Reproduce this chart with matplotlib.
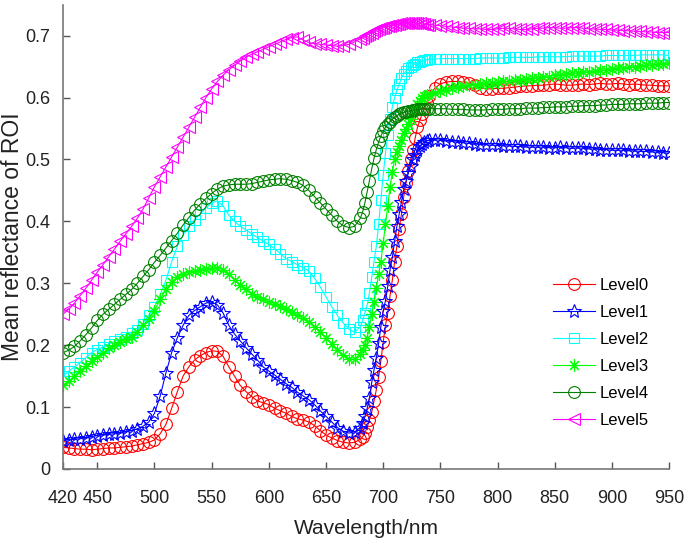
import numpy as np
import matplotlib
matplotlib.use("Agg")
import matplotlib.pyplot as plt

plt.rcParams['font.family'] = ['Liberation Sans', 'DejaVu Sans']

# wavelength grid: 5 nm, 2 nm around the red edge, then 5 nm again
wl = np.concatenate([np.arange(420, 681, 5), np.arange(682, 741, 2), np.arange(745, 951, 5)])

level0 = [0.035, 0.034, 0.033, 0.032, 0.032, 0.031, 0.032, 0.033, 0.034, 0.034, 0.035, 0.036, 0.037,
          0.039, 0.041, 0.043, 0.047, 0.057, 0.072, 0.098, 0.125, 0.150, 0.165, 0.176, 0.183, 0.188,
          0.191, 0.190, 0.182, 0.165, 0.150, 0.135, 0.125, 0.117, 0.110, 0.107, 0.104, 0.098, 0.094,
          0.090, 0.085, 0.081, 0.079, 0.076, 0.070, 0.062, 0.055, 0.050, 0.046, 0.043, 0.042, 0.043, 0.048,
          0.052, 0.058, 0.068, 0.079, 0.092, 0.110, 0.128, 0.148, 0.175, 0.205, 0.232, 0.252, 0.280, 0.305,
          0.335, 0.360, 0.388, 0.412, 0.440, 0.462, 0.482, 0.500, 0.515, 0.535, 0.552, 0.563, 0.573, 0.582,
          0.592, 0.602,
          0.615, 0.622, 0.625, 0.626, 0.626, 0.625, 0.623, 0.620, 0.616, 0.614, 0.614, 0.615, 0.615, 0.616,
          0.617, 0.618, 0.619, 0.619, 0.620, 0.620, 0.621, 0.622, 0.621, 0.620, 0.620, 0.621, 0.622, 0.621,
          0.622, 0.623, 0.622, 0.622, 0.623, 0.622, 0.621, 0.622, 0.621, 0.620, 0.620, 0.619, 0.619, 0.619]

level1 = [0.046, 0.047, 0.048, 0.049, 0.050, 0.052, 0.054, 0.055, 0.056, 0.057, 0.058, 0.060, 0.062,
          0.065, 0.069, 0.076, 0.090, 0.118, 0.155, 0.188, 0.212, 0.232, 0.248, 0.256, 0.262, 0.268,
          0.270, 0.265, 0.252, 0.232, 0.218, 0.207, 0.196, 0.186, 0.176, 0.165, 0.158, 0.152, 0.145,
          0.138, 0.132, 0.124, 0.118, 0.112, 0.104, 0.094, 0.085, 0.076, 0.067, 0.061, 0.058, 0.060, 0.067,
          0.075, 0.085, 0.098, 0.115, 0.140, 0.160, 0.180, 0.203, 0.230, 0.255, 0.272, 0.295, 0.322, 0.342,
          0.368, 0.392, 0.412, 0.432, 0.452, 0.465, 0.478, 0.490, 0.500, 0.508, 0.515, 0.521, 0.525, 0.528,
          0.530, 0.531,
          0.532, 0.531, 0.530, 0.529, 0.528, 0.527, 0.526, 0.525, 0.524, 0.524, 0.523, 0.523, 0.522, 0.522,
          0.521, 0.521, 0.520, 0.520, 0.520, 0.520, 0.519, 0.519, 0.520, 0.519, 0.518, 0.519, 0.518, 0.517,
          0.517, 0.516, 0.516, 0.515, 0.515, 0.515, 0.514, 0.514, 0.513, 0.513, 0.512, 0.512, 0.511, 0.510]

level2 = [0.150, 0.158, 0.165, 0.172, 0.180, 0.188, 0.193, 0.197, 0.202, 0.206, 0.210, 0.214, 0.219,
          0.225, 0.235, 0.248, 0.262, 0.282, 0.305, 0.335, 0.360, 0.378, 0.392, 0.403, 0.412, 0.422,
          0.430, 0.433, 0.425, 0.410, 0.400, 0.392, 0.386, 0.380, 0.374, 0.368, 0.363, 0.356, 0.348,
          0.340, 0.335, 0.330, 0.325, 0.320, 0.308, 0.294, 0.278, 0.262, 0.248, 0.236, 0.226, 0.221, 0.230,
          0.240, 0.252, 0.265, 0.285, 0.310, 0.335, 0.360, 0.395, 0.435, 0.475, 0.510, 0.540, 0.565, 0.585,
          0.600, 0.612, 0.622, 0.632, 0.638, 0.643, 0.647, 0.650, 0.652, 0.655, 0.657, 0.658, 0.659, 0.660,
          0.661, 0.662,
          0.662, 0.663, 0.663, 0.663, 0.663, 0.663, 0.663, 0.663, 0.664, 0.664, 0.664, 0.664, 0.664, 0.665,
          0.665, 0.665, 0.665, 0.665, 0.666, 0.666, 0.666, 0.666, 0.666, 0.666, 0.667, 0.667, 0.667, 0.667,
          0.667, 0.667, 0.668, 0.668, 0.668, 0.668, 0.668, 0.668, 0.669, 0.669, 0.669, 0.669, 0.669, 0.668]

level3 = [0.135, 0.142, 0.150, 0.158, 0.166, 0.174, 0.181, 0.188, 0.195, 0.200, 0.205, 0.210, 0.214,
          0.222, 0.232, 0.242, 0.256, 0.274, 0.290, 0.302, 0.310, 0.315, 0.318, 0.320, 0.322, 0.323,
          0.324, 0.325, 0.322, 0.315, 0.305, 0.297, 0.290, 0.283, 0.278, 0.274, 0.270, 0.267, 0.263,
          0.258, 0.253, 0.249, 0.244, 0.238, 0.230, 0.222, 0.212, 0.202, 0.192, 0.184, 0.177, 0.178, 0.186,
          0.192, 0.200, 0.212, 0.230, 0.250, 0.270, 0.292, 0.315, 0.335, 0.365, 0.395, 0.425, 0.455, 0.480,
          0.500, 0.512, 0.522, 0.532, 0.542, 0.550, 0.558, 0.566, 0.575, 0.583, 0.590, 0.595, 0.599, 0.602,
          0.604, 0.606,
          0.608, 0.611, 0.613, 0.615, 0.617, 0.618, 0.620, 0.621, 0.622, 0.623, 0.624, 0.625, 0.626, 0.627,
          0.628, 0.629, 0.630, 0.631, 0.632, 0.633, 0.634, 0.636, 0.637, 0.638, 0.639, 0.640, 0.641, 0.642,
          0.643, 0.644, 0.645, 0.646, 0.647, 0.648, 0.649, 0.650, 0.651, 0.652, 0.653, 0.654, 0.655, 0.656]

level4 = [0.188, 0.192, 0.198, 0.207, 0.217, 0.228, 0.240, 0.250, 0.258, 0.266, 0.274, 0.282, 0.290,
          0.300, 0.311, 0.322, 0.334, 0.345, 0.357, 0.369, 0.381, 0.394, 0.406, 0.418, 0.428, 0.437,
          0.445, 0.452, 0.457, 0.459, 0.460, 0.460, 0.460, 0.461, 0.463, 0.465, 0.467, 0.468, 0.469,
          0.468, 0.466, 0.463, 0.458, 0.450, 0.440, 0.430, 0.420, 0.410, 0.400, 0.393, 0.390, 0.392, 0.405,
          0.415, 0.430, 0.448, 0.466, 0.485, 0.502, 0.516, 0.528, 0.538, 0.546, 0.552, 0.557, 0.561, 0.565,
          0.568, 0.571, 0.573, 0.575, 0.576, 0.577, 0.578, 0.579, 0.580, 0.580, 0.581, 0.581, 0.581, 0.582,
          0.582, 0.582,
          0.582, 0.582, 0.582, 0.581, 0.581, 0.581, 0.580, 0.580, 0.580, 0.580, 0.581, 0.581, 0.581, 0.582,
          0.582, 0.582, 0.583, 0.583, 0.583, 0.584, 0.584, 0.585, 0.585, 0.585, 0.586, 0.586, 0.587, 0.587,
          0.587, 0.588, 0.588, 0.589, 0.589, 0.589, 0.590, 0.590, 0.590, 0.591, 0.591, 0.591, 0.592, 0.592]

level5 = [0.250, 0.258, 0.268, 0.280, 0.292, 0.305, 0.318, 0.330, 0.343, 0.355, 0.368, 0.380, 0.392,
          0.405, 0.420, 0.438, 0.456, 0.472, 0.488, 0.504, 0.520, 0.536, 0.552, 0.568, 0.584, 0.600,
          0.614, 0.626, 0.636, 0.645, 0.652, 0.659, 0.665, 0.670, 0.674, 0.678, 0.682, 0.686, 0.690,
          0.694, 0.697, 0.698, 0.693, 0.689, 0.687, 0.686, 0.685, 0.684, 0.683, 0.684, 0.686, 0.690, 0.695,
          0.697, 0.699, 0.701, 0.703, 0.705, 0.707, 0.709, 0.711, 0.712, 0.713, 0.714, 0.715, 0.716, 0.717,
          0.718, 0.719, 0.719, 0.720, 0.720, 0.720, 0.721, 0.721, 0.721, 0.720, 0.720, 0.720, 0.719, 0.719,
          0.718, 0.718,
          0.717, 0.716, 0.715, 0.714, 0.713, 0.712, 0.712, 0.711, 0.711, 0.710, 0.710, 0.711, 0.712, 0.712,
          0.711, 0.710, 0.710, 0.711, 0.712, 0.712, 0.713, 0.713, 0.712, 0.712, 0.713, 0.713, 0.712, 0.711,
          0.711, 0.710, 0.710, 0.709, 0.709, 0.708, 0.708, 0.707, 0.707, 0.706, 0.706, 0.705, 0.705, 0.705]

series = [level0, level1, level2, level3, level4, level5]
labels = ["Level0", "Level1", "Level2", "Level3", "Level4", "Level5"]
colors = ["#ff0000", "#0000ff", "#00ffff", "#00ff00", "#008000", "#ff00ff"]
# matlab style markers: circle, pentagram, square, asterisk, circle, left triangle
markers = ["o", "*", "s", (8, 2, 0), "o", "<"]
msizes = [8.5, 10.5, 7.5, 9, 8.5, 8.5]

xticks = [420, 450, 500, 550, 600, 650, 700, 750, 800, 850, 900, 950]
yticks = [0, 0.1, 0.2, 0.3, 0.4, 0.5, 0.6, 0.7]
ytick_labels = ["0", "0.1", "0.2", "0.3", "0.4", "0.5", "0.6", "0.7"]

fig = plt.figure(figsize=(6.85, 5.43), dpi=100)
ax = fig.add_axes([0.092, 0.1363, 0.8847, 0.855])

for y, lab, c, m, ms in zip(series, labels, colors, markers, msizes):
    ax.plot(wl, y, color=c, marker=m, markersize=ms, markerfacecolor="none",
            markeredgecolor=c, markeredgewidth=0.8, linewidth=0.8, label=lab)

ax.set_xlim(420, 950)
ax.set_ylim(0, 0.75)
ax.set_xticks(xticks)
ax.set_yticks(yticks)
ax.set_yticklabels(ytick_labels)
ax.tick_params(direction="in", length=5, width=1, colors="#555555", labelcolor="#222222", labelsize=13)
ax.tick_params(axis="x", pad=15)
ax.tick_params(axis="y", pad=9)
ax.spines["top"].set_visible(False)
ax.spines["right"].set_visible(False)
ax.spines["left"].set_color("#777777")
ax.spines["bottom"].set_color("#777777")
ax.spines["left"].set_linewidth(1.2)
ax.spines["bottom"].set_linewidth(1.2)

ax.set_xlabel("Wavelength/nm", fontsize=15, color="#222222", labelpad=9)
ax.set_ylabel("Mean reflectance of ROI", fontsize=16.5, color="#222222")
ax.yaxis.set_label_coords(-0.064, 0.5)

ax.legend(loc="upper left", bbox_to_anchor=(553 / 685, 1 - 278 / 543), bbox_transform=fig.transFigure,
          frameon=False, fontsize=12, handlelength=2.5, handletextpad=0.3, labelspacing=0.72,
          borderpad=0, borderaxespad=0)

fig.savefig("out.png", dpi=100)
